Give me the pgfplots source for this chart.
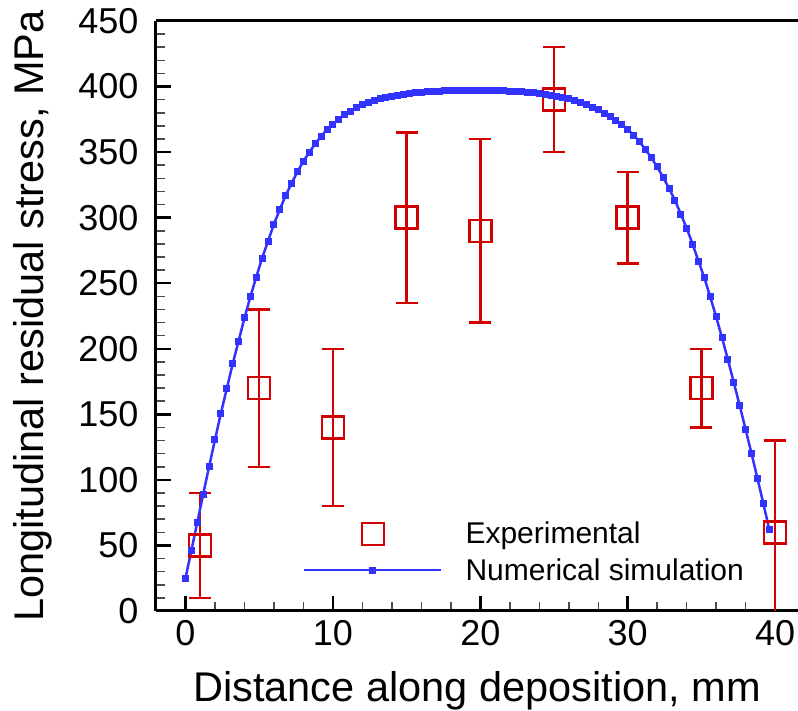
\documentclass[border=0pt]{standalone}
\usepackage{pgfplots}
\pgfplotsset{compat=1.18}
\usepackage{fontspec}
\setmainfont{Liberation Sans}
\definecolor{expred}{RGB}{210,0,0}
\definecolor{simblue}{RGB}{51,51,255}
\pgfplotsset{longline/.style={legend image code/.code={\draw[mark repeat=2,mark phase=2,##1] plot coordinates {(0pt,0pt)(68.5pt,0pt)(137pt,0pt)};}}}
\begin{document}
\begin{tikzpicture}
\begin{axis}[
  scale only axis, width=642pt, height=590pt,
  xmin=-2, xmax=41.55, ymin=0, ymax=450,
  axis x line*=box, axis y line*=left,
  xtick pos=left, ytick pos=left,
  xtick={0,10,20,30,40}, ytick={0,50,...,450},
  minor tick num=4,
  tick align=inside,
  major tick length=15pt, minor tick length=9pt,
  every major tick/.append style={line width=2.5pt, black},
  every minor tick/.append style={line width=1.5pt, black!70},
  axis line style={line width=3pt},
  /pgf/number format/assume math mode=true,
  tick label style={font=\fontsize{36}{42}\selectfont},
  yticklabel style={xshift=-14pt},
  xticklabel style={yshift=-6pt},
  xlabel={Distance along deposition, mm},
  ylabel={Longitudinal residual stress, MPa},
  label style={font=\fontsize{41.5}{48}\selectfont},
  xlabel style={at={(axis description cs:0.5,0)}, anchor=base, yshift=-90.5pt},
  ylabel style={at={(axis description cs:-0.175,0.5)}, anchor=base},
  legend style={draw=none, fill=none, at={(0.224,0.1)}, anchor=west,
    font=\fontsize{30}{36}\selectfont, row sep=13pt,
    nodes={inner sep=0pt}, /tikz/column sep=23pt},
  legend cell align=left,
  clip=true,
]
\addplot[only marks, mark=square, mark size=11pt,
  mark options={line width=2.5pt, draw=expred}, color=expred, longline,
  error bars/.cd, y dir=both, y explicit,
  error bar style={line width=2.5pt, expred},
  error mark options={rotate=90, mark size=11pt, line width=2.5pt, expred}]
  coordinates {
  (1,50) +- (0,40)
  (5,170) +- (0,60)
  (10,140) +- (0,60)
  (15,300) +- (0,65)
  (20,290) +- (0,70)
  (25,390) +- (0,40)
  (30,300) +- (0,35)
  (35,170) +- (0,30)
  (40,60) +- (0,70)
  };
\addlegendentry{Experimental}
\addplot[simblue, line width=2.5pt, mark=square*, mark size=3pt,
  mark options={fill=simblue, draw=simblue, line width=0pt}, longline]
  table {
x y
0.0 25
0.4 46.2
0.8 67.5
1.2 89
1.6 110
2.0 130.6
2.4 150.7
2.8 169.5
3.2 188.5
3.6 205.7
4.0 223.5
4.4 239.5
4.8 254.7
5.2 269.2
5.6 282.1
6.0 295.1
6.4 306.2
6.8 317.1
7.2 326.3
7.6 335.1
8.0 343
8.4 349.9
8.8 356.4
9.2 362
9.6 367.3
10.0 371.1
10.4 375
10.8 378.8
11.2 381.3
11.6 383.8
12.0 386
12.4 387.9
12.8 389.4
13.2 390.6
13.6 391.7
14.0 392.7
14.4 393.5
14.8 394.2
15.2 394.8
15.6 395.3
16.0 395.7
16.4 396
16.8 396.3
17.2 396.5
17.6 396.7
18.0 396.8
18.4 396.9
18.8 397
19.2 397
19.6 397
20.0 397
20.4 397
20.8 396.9
21.2 396.8
21.6 396.7
22.0 396.5
22.4 396.3
22.8 396
23.2 395.7
23.6 395.3
24.0 394.8
24.4 394.2
24.8 393.5
25.2 392.7
25.6 391.8
26.0 390.7
26.4 389.4
26.8 388
27.2 386.3
27.6 384.4
28.0 382.2
28.4 379.7
28.8 377
29.2 374.2
29.6 371.1
30.0 367.3
30.4 363
30.8 357.9
31.2 352.1
31.6 345.7
32.0 338.7
32.4 330.8
32.8 322.4
33.2 313.3
33.6 302.7
34.0 292
34.4 279.8
34.8 266.9
35.2 254
35.6 239.5
36.0 224.3
36.4 208.3
36.8 191.5
37.2 174
37.6 156.5
38.0 138.3
38.4 120
38.8 101
39.2 82
39.6 62.2
  };
\addlegendentry{Numerical simulation}
\coordinate (A) at (rel axis cs:0,0);
\coordinate (B) at (rel axis cs:1,1);
\end{axis}
\pgfresetboundingbox
\path ([shift={(-156pt,-100pt)}]A) rectangle ([shift={(0pt,21pt)}]B);
\end{tikzpicture}
\end{document}
